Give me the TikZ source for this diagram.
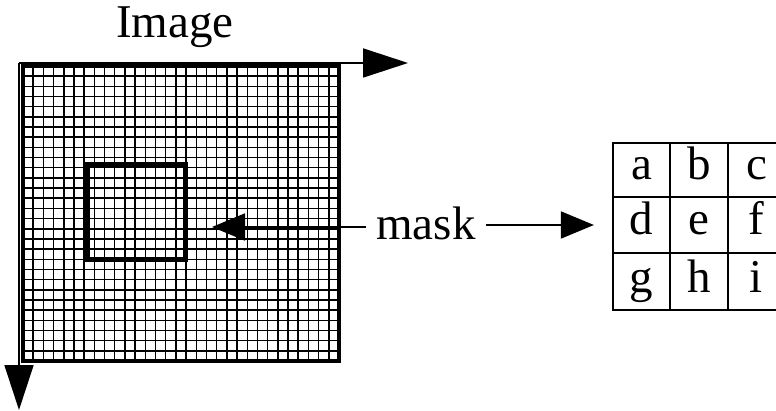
\documentclass[tikz,border=0pt]{standalone}
\usepackage{fontspec}
\setmainfont{Liberation Serif}
\usetikzlibrary{arrows.meta}
\begin{document}
\begin{tikzpicture}[x=1pt,y=-1pt,
  lbl/.style={font=\fontsize{47}{47}\selectfont, inner sep=0pt, anchor=base},
  axis/.style={line width=1.8pt, -{Triangle[length=45pt,width=29pt]}},
  pointer/.style={line width=1.8pt, -{Triangle[length=33pt,width=27pt]}},
  gridline/.style={line width=1.5pt},
  cellline/.style={line width=2.2pt}]
\useasboundingbox (0,0) rectangle (776,411);
% grid
\foreach \i in {1,...,30} {\draw[gridline] ({23+\i*316/31},66) -- ({23+\i*316/31},361);}
\foreach \j in {1,...,28} {\draw[gridline] (23,{66+\j*295/29}) -- (339,{66+\j*295/29});}
\node[draw, line width=3.5pt, minimum width=316pt, minimum height=295pt, inner sep=0pt] (img) at (181,213.5) {};
% axes
\coordinate (o) at (19,63);
\coordinate (xe) at (408,63);
\coordinate (ye) at (19,410);
\draw[axis] (o) -- (xe);
\draw[axis] (o) -- (ye);
\node[lbl] (title) at (175,38) {Image};
% mask window
\node[draw, line width=5pt, minimum width=98pt, minimum height=95pt, inner sep=0pt] (win) at (136,212.5) {};
% mask label
\node[lbl] (mask) at (426,240) {mask};
\coordinate (tipL) at (212,227);
\draw[pointer] ([xshift=-10pt]mask.west |- tipL) -- (tipL);
% table
\node[draw, cellline, minimum width=57pt, minimum height=54pt, inner sep=0pt] (a) at (641.5,170) {};
\node[draw, cellline, minimum width=58pt, minimum height=54pt, inner sep=0pt] (b) at (699,170) {};
\node[draw, cellline, minimum width=57pt, minimum height=54pt, inner sep=0pt] (c) at (756.5,170) {};
\node[draw, cellline, minimum width=57pt, minimum height=56pt, inner sep=0pt] (d) at (641.5,225) {};
\node[draw, cellline, minimum width=58pt, minimum height=56pt, inner sep=0pt] (e) at (699,225) {};
\node[draw, cellline, minimum width=57pt, minimum height=56pt, inner sep=0pt] (f) at (756.5,225) {};
\node[draw, cellline, minimum width=57pt, minimum height=57pt, inner sep=0pt] (g) at (641.5,281.5) {};
\node[draw, cellline, minimum width=58pt, minimum height=57pt, inner sep=0pt] (h) at (699,281.5) {};
\node[draw, cellline, minimum width=57pt, minimum height=57pt, inner sep=0pt] (i) at (756.5,281.5) {};
\node[lbl] at (641.5,180) {a};
\node[lbl] at (699,180) {b};
\node[lbl] at (756.5,180) {c};
\node[lbl] at (641.5,235) {d};
\node[lbl] at (699,235) {e};
\node[lbl] at (756.5,235) {f};
\node[lbl] at (641.5,293) {g};
\node[lbl] at (699,293) {h};
\node[lbl] at (756.5,293) {i};
\draw[pointer, shorten >=18pt] ([xshift=10pt]mask.east |- d.west) -- (d.west);
\end{tikzpicture}
\end{document}
